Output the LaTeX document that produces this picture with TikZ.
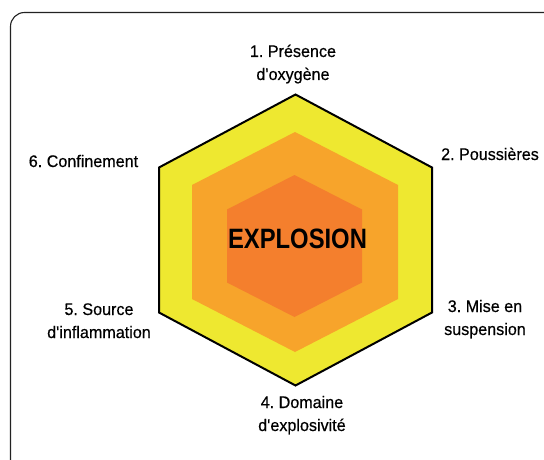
\documentclass[tikz,border=0pt]{standalone}
\usepackage{fontspec}
\setmainfont[FakeStretch=0.96,FakeBold=0.4]{Liberation Sans}
\newfontfamily\bigfont[FakeStretch=0.85]{Liberation Sans}
\definecolor{hexyellow}{HTML}{EEE830}
\definecolor{hexmid}{HTML}{F7A42B}
\definecolor{hexin}{HTML}{F47F2D}
\definecolor{frame}{HTML}{222222}
\newcommand{\apos}{\textquotesingle}
\begin{document}
\begin{tikzpicture}[x=1pt,y=-1pt,
  lbl/.style={inner sep=0pt, anchor=base, align=center, font=\frenchspacing\fontsize{16.8}{23}\selectfont},
  big/.style={inner sep=0pt, anchor=base, font=\bigfont\bfseries\fontsize{28}{30}\selectfont}]
\useasboundingbox (0,0) rectangle (544,460);
\fill[white] (0,0) rectangle (544,460);
\begin{scope}
\clip (0,0) rectangle (544,460);
\draw[frame, line width=1.1pt, rounded corners=14pt] (10.5,12.5) rectangle (580,500);
\end{scope}
% outer hexagon
\filldraw[fill=hexyellow, draw=black, line width=2pt, line join=miter]
  (295.5,94.5) -- (432,167.5) -- (432,312.5) -- (295.5,385.5) -- (159,312.5) -- (159,167.5) -- cycle;
% middle hexagon
\fill[hexmid] (295,132) -- (398,185) -- (398,299) -- (295,352) -- (192,299) -- (192,185) -- cycle;
% inner hexagon
\fill[hexin] (294.5,175) -- (362,209.5) -- (362,282.5) -- (294.5,317) -- (227,282.5) -- (227,209.5) -- cycle;
\node[big] (c) at (297.5,248) {EXPLOSION};
\node[lbl] (l1) at (293,80) {1. Présence\\d\apos oxygène};
\node[lbl] (l2) at (490,160) {2. Poussières};
\node[lbl] (l3) at (485,335) {3. Mise en\\suspension};
\node[lbl] (l4) at (302,431) {4. Domaine\\d\apos explosivité};
\node[lbl] (l5) at (99,338) {5. Source\\d\apos inflammation};
\node[lbl] (l6) at (83.5,167) {6. Confinement};
\end{tikzpicture}
\end{document}
